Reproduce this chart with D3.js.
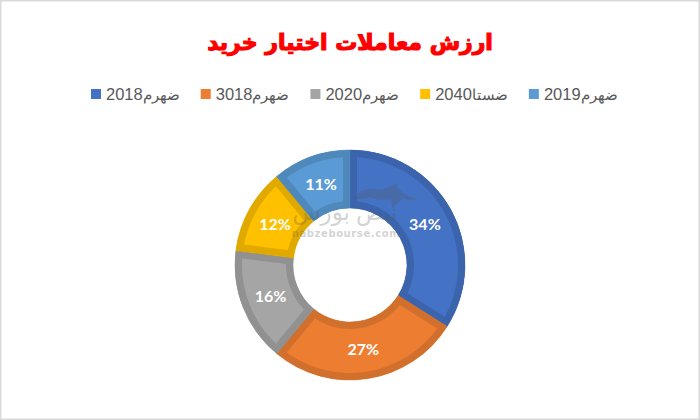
<!DOCTYPE html>
<html>
<head>
<meta charset="utf-8">
<script src="https://d3js.org/d3.v7.min.js"></script>
<style>
  body { margin: 0; background: #fff; }
  svg { display: block; }
</style>
</head>
<body>
<svg id="chart" width="700" height="420"></svg>
<script>
var title = "ارزش معاملات اختیار خرید";
var years = ["2018", "3018", "2020", "2040", "2019"];
var months = ["ضهرم", "ضهرم", "ضهرم", "ضستا", "ضهرم"];
var values = [34, 27, 16, 12, 11];
var colors = ["#4472c4", "#ed7d31", "#a5a5a5", "#ffc000", "#5b9bd5"];
var borders = ["#3b64ad", "#d1702c", "#919191", "#e0a900", "#4f88bb"];

var svg = d3.select("#chart");

// outer frame
svg.append("rect")
  .attr("x", 0.75).attr("y", 0.75)
  .attr("width", 698.5).attr("height", 418.5)
  .attr("fill", "#fff")
  .attr("stroke", "#d9d9d9")
  .attr("stroke-width", 1.5);

// title
svg.append("text")
  .attr("x", 350).attr("y", 50)
  .attr("text-anchor", "middle")
  .attr("direction", "rtl")
  .attr("font-family", "'DejaVu Sans'")
  .attr("font-weight", "bold")
  .attr("font-size", 22)
  .attr("fill", "#ff0000")
  .attr("stroke", "#ff0000")
  .attr("stroke-width", 1.2)
  .text(title);

// legend, laid out from measured text widths
var legend = svg.append("g").attr("transform", "translate(0,94)");
var legendX = 91;
years.forEach(function(y, i) {
  legend.append("rect")
    .attr("x", legendX).attr("y", -5)
    .attr("width", 10).attr("height", 10)
    .attr("fill", colors[i]);
  var t = legend.append("text")
    .attr("x", legendX + 15).attr("y", 5.5)
    .attr("font-family", "'Liberation Sans'")
    .attr("fill", "#595959")
    .attr("direction", "ltr");
  t.append("tspan").attr("font-size", 16.5).text(y);
  t.append("tspan").attr("font-size", 14.5).text(months[i]);
  legendX += 15 + t.node().getComputedTextLength() + 21;
});

// donut
var cx = 350, cy = 265, outer = 115, inner = 57;
var ring = svg.append("g").attr("transform", "translate(" + cx + "," + cy + ")");
var pie = d3.pie().sort(null)(values);
var arc = d3.arc().innerRadius(inner).outerRadius(outer);
var labelArc = d3.arc().innerRadius(85.5).outerRadius(85.5);

var defs = svg.append("defs");
pie.forEach(function(d, i) {
  defs.append("clipPath").attr("id", "slice" + i)
    .append("path").attr("d", arc(d));
  // solid underlay hides the hairline the clip leaves between slices
  ring.append("path")
    .attr("d", arc(d))
    .attr("fill", borders[i])
    .attr("stroke", borders[i])
    .attr("stroke-width", 0.5);
  // border is drawn double width and clipped so it sits inside the slice
  ring.append("path")
    .attr("d", arc(d))
    .attr("fill", colors[i])
    .attr("stroke", borders[i])
    .attr("stroke-width", 14)
    .attr("stroke-linejoin", "miter")
    .attr("clip-path", "url(#slice" + i + ")");
});

// watermark
var mark = svg.append("g").attr("fill", "#555").attr("opacity", 0.25).attr("text-anchor", "middle");
mark.append("text")
  .attr("x", 345).attr("y", 220)
  .attr("direction", "rtl")
  .attr("font-family", "'Noto Sans', 'DejaVu Sans'")
  .attr("font-size", 23)
  .text("نبض بورس");
mark.append("text")
  .attr("x", 346).attr("y", 237)
  .attr("font-family", "'DejaVu Sans'")
  .attr("font-weight", "bold")
  .attr("font-size", 10)
  .attr("letter-spacing", 0.6)
  .text("nabzebourse.com");
// rough bull shape
mark.append("path")
  .attr("d", "M355,199 C358,190 368,187 378,190 C385,190 390,186 398,183 C396,186 397,188 402,192 C406,196 412,198 417,198 C413,202 407,200 403,198 C400,201 397,203 393,208 C391,205 392,202 391,199 C384,201 376,200 370,197 C365,199 360,199 355,199 Z");

// percent labels
pie.forEach(function(d, i) {
  var p = labelArc.centroid(d);
  ring.append("text")
    .attr("x", p[0]).attr("y", p[1])
    .attr("dy", "0.36em")
    .attr("text-anchor", "middle")
    .attr("font-family", "Lato")
    .attr("font-weight", "bold")
    .attr("font-size", 16)
    .attr("fill", "#fff")
    .text(values[i] + "%");
});
</script>
</body>
</html>
